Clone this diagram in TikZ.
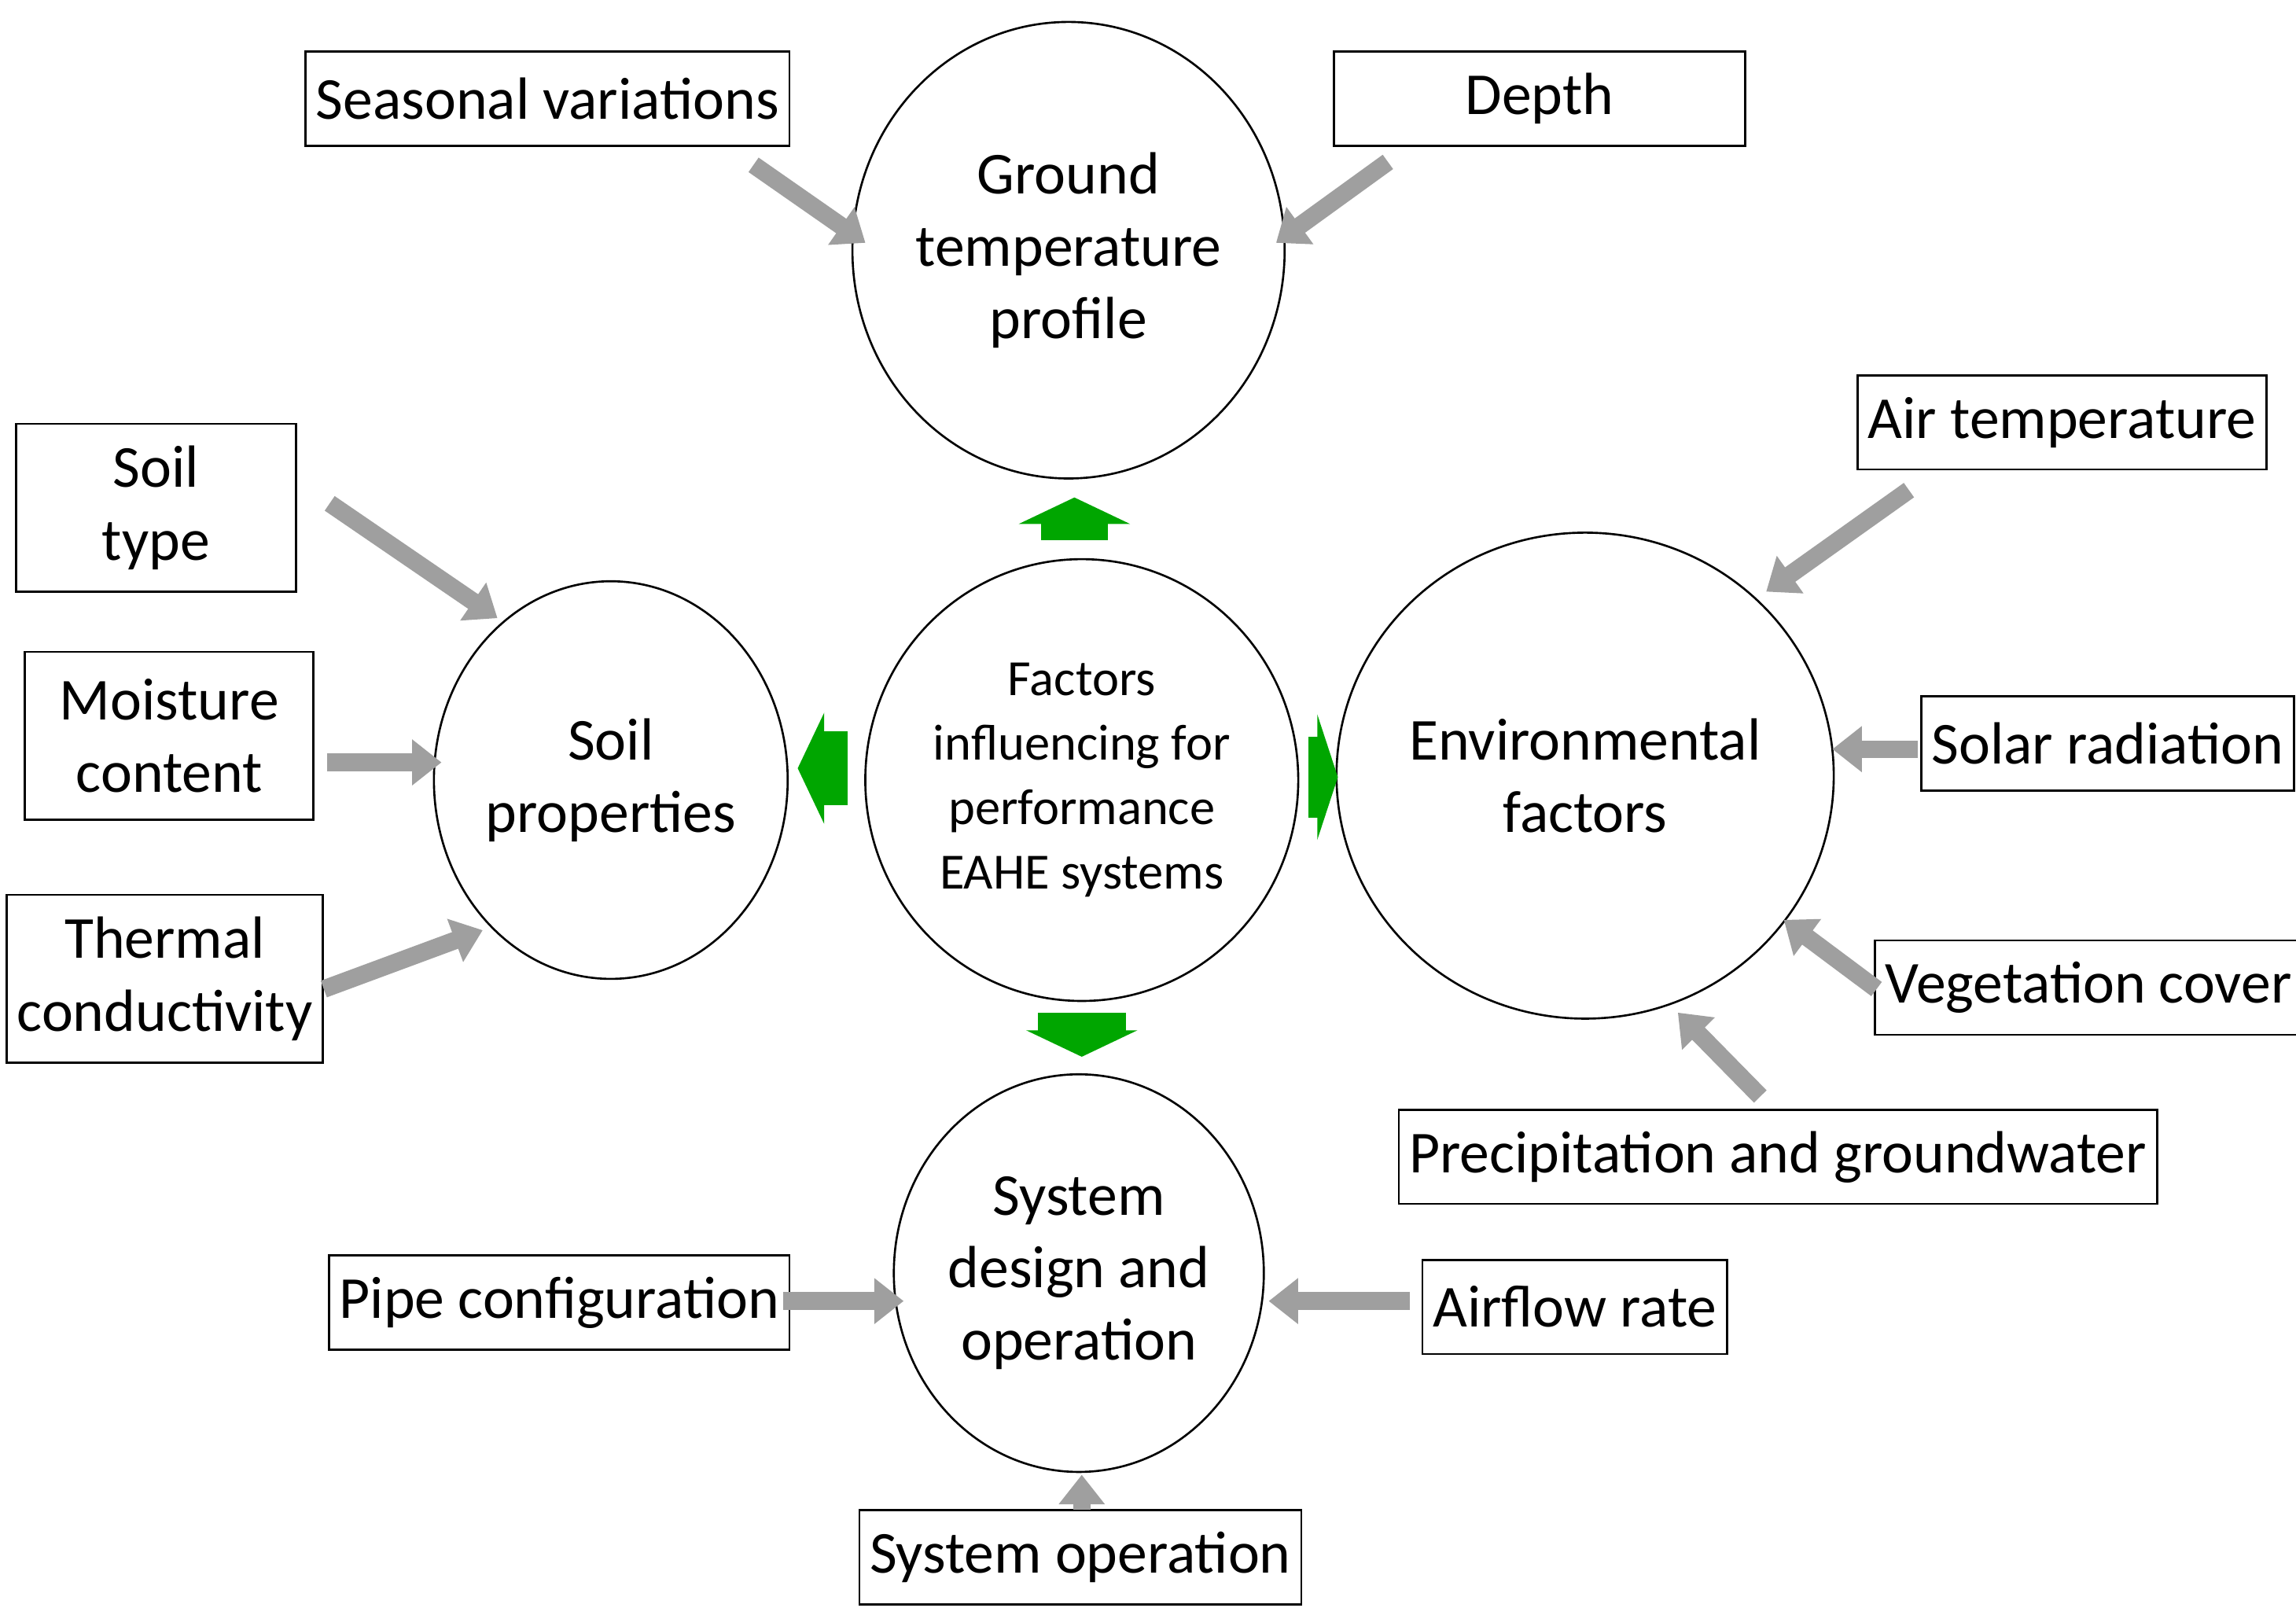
\documentclass[tikz,border=0pt]{standalone}
\usepackage{fontspec}
\setmainfont{Carlito}
\usetikzlibrary{arrows.meta,shapes.geometric}
\tikzset{
	box/.style={draw, thin, minimum height=0.64cm, inner sep=2pt, align=center, font=\fontsize{11.5}{14}\selectfont},
	circ/.style={draw, thin, ellipse, inner sep=0pt, align=center, font=\fontsize{11.5}{14}\selectfont},
	feed/.style={line width=0.12cm, gray!75, -{Triangle[length=0.2cm, width=0.3cm]}},
	push/.style={line width=0.45cm, green!65!black, -{Triangle[length=0.18cm, width=0.75cm]}}
}
\begin{document}
\begin{tikzpicture}[x=0.01cm, y=-0.01cm]
	\useasboundingbox (0,0) rectangle (1560,1100);

	\node[circ, minimum width=2.7cm, minimum height=3.1cm] (ground) at (726,170) {Ground\\temperature\\profile};
	\node[circ, minimum width=2.94cm, minimum height=3.0cm, font=\fontsize{9.8}{12.5}\selectfont] (core) at (735,530) {Factors\\influencing for\\performance\\EAHE systems};
	\node[circ, minimum width=2.3cm, minimum height=2.7cm] (soil) at (415,530) {Soil\\properties};
	\node[circ, minimum width=3.2cm, minimum height=3.3cm] (env) at (1077,527) {Environmental\\factors};
	\node[circ, minimum width=2.26cm, minimum height=2.7cm] (sys) at (733,865) {System\\design and\\operation};

	\node[box, minimum width=3.03cm] (seas) at (372,67) {Seasonal variations};
	\node[box, minimum width=2.79cm] (depth) at (1046,67) {Depth};
	\node[box, minimum width=2.59cm] (air) at (1401,287) {Air temperature};
	\node[box, minimum width=1.9cm, minimum height=1.14cm] (stype) at (106,345) {Soil\\type};
	\node[box, minimum width=1.96cm, minimum height=1.14cm] (moist) at (115,500) {Moisture\\content};
	\node[box, minimum width=2.02cm, minimum height=1.14cm] (therm) at (112,665) {Thermal\\conductivity};
	\node[box, minimum width=2.43cm] (solar) at (1432,505) {Solar radiation};
	\node[box, minimum width=2.74cm] (veg) at (1419,671) {Vegetation cover};
	\node[box, minimum width=4.69cm] (prec) at (1208,786) {Precipitation and groundwater};
	\node[box, minimum width=2.92cm] (pipe) at (380,885) {Pipe configuration};
	\node[box, minimum width=2.03cm] (flow) at (1070,888) {Airflow rate};
	\node[box, minimum width=2.81cm] (oper) at (734,1058) {System operation};

	% arrow ends
	\coordinate (seas-a) at (512,112); \coordinate (seas-b) at (588,165);
	\coordinate (depth-a) at (943,110); \coordinate (depth-b) at (867,165);
	\coordinate (air-a) at (1297,333); \coordinate (air-b) at (1200,402);
	\coordinate (stype-a) at (224,342); \coordinate (stype-b) at (338,420);
	\coordinate (moist-a) at (222,518); \coordinate (moist-b) at (300,518);
	\coordinate (therm-a) at (220,672); \coordinate (therm-b) at (328,632);
	\coordinate (solar-a) at (1303,509); \coordinate (solar-b) at (1245,509);
	\coordinate (veg-a) at (1275,672); \coordinate (veg-b) at (1212,625);
	\coordinate (prec-a) at (1196,745); \coordinate (prec-b) at (1140,688);
	\coordinate (pipe-a) at (532,884); \coordinate (pipe-b) at (614,884);
	\coordinate (flow-a) at (958,884); \coordinate (flow-b) at (862,884);
	\coordinate (oper-a) at (735,1026); \coordinate (oper-b) at (735,1002);

	\foreach \n in {seas,depth,air,stype,moist,therm,solar,veg,prec,pipe,flow,oper}
		\draw[feed] (\n-a) -- (\n-b);

	% central arrows
	\coordinate (up-a) at (730,367); \coordinate (up-b) at (730,338);
	\coordinate (dn-a) at (735,688); \coordinate (dn-b) at (735,718);
	\coordinate (lt-a) at (576,522); \coordinate (lt-b) at (542,522);
	\coordinate (rt-a) at (889,528); \coordinate (rt-b) at (909,528);
	\draw[push] (up-a) -- (up-b);
	\draw[push, line width=0.6cm] (dn-a) -- (dn-b);
	\draw[push, line width=0.5cm] (lt-a) -- (lt-b);
	\draw[push, line width=0.55cm, -{Triangle[length=0.14cm, width=0.85cm]}] (rt-a) -- (rt-b);
\end{tikzpicture}
\end{document}
